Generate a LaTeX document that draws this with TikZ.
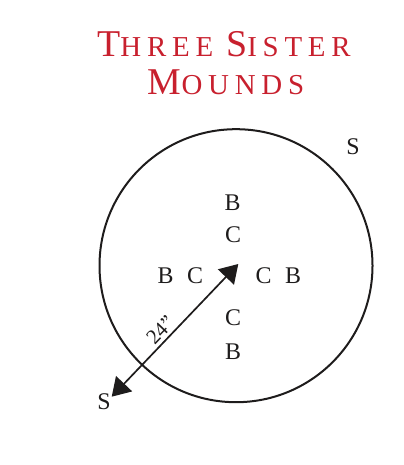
\documentclass[tikz,border=0pt]{standalone}
\usepackage{fontspec}
\setmainfont{Liberation Serif}
\newfontfamily\titlefont[LetterSpace=20]{Liberation Serif}
\usetikzlibrary{arrows.meta}
\definecolor{titlered}{RGB}{200,32,46}
\definecolor{ink}{RGB}{30,28,28}
\newcommand\tcapbig[1]{{\fontsize{38}{40}\selectfont #1}}
\newcommand\tcapsmall[1]{{\fontsize{29}{32}\selectfont #1}}
\begin{document}
\begin{tikzpicture}[x=1bp,y=-1bp,
  letter/.style={font=\fontsize{24}{26}\selectfont, text=ink, inner sep=0pt},
  titleline/.style={font=\titlefont, text=titlered, inner sep=0pt, anchor=base},
  tipstyle/.style={line width=1.7bp, draw=ink,
    {Triangle[length=18bp,width=22bp]}-{Triangle[length=18bp,width=22bp]}}]
\useasboundingbox (0,0) rectangle (403,465);
% title
\node[titleline] (t1) at (224,57) {\tcapbig{T}\tcapsmall{HREE\ }\tcapbig{S}\tcapsmall{ISTER}};
\node[titleline] (t2) at (226,95) {\tcapbig{M}\tcapsmall{OUNDS}};
% mound circle
\node[circle, draw=ink, line width=2bp, minimum size=273bp, inner sep=0pt] (ring) at (236,265.7) {};
% letters
\node[letter] (bt) at (232.5,203) {B};
\node[letter] (ct) at (233,234.5) {C};
\node[letter] (bl) at (165.5,276) {B};
\node[letter] (cl) at (195,276) {C};
\node[letter] (cr) at (263.5,276) {C};
\node[letter] (br) at (293,276) {B};
\node[letter] (cb) at (233,318) {C};
\node[letter] (bb) at (233,352) {B};
\node[letter] (s1) at (353,147) {S};
\node[letter] (s2) at (104,402) {S};
% arrow
\coordinate (lo) at (111.7,396.7);
\coordinate (hi) at (238.3,264);
\draw[tipstyle] (lo) -- node[pos=0.445, sloped, above, inner sep=3bp, font=\fontsize{21}{23}\selectfont, text=ink] (lab) {24”} (hi);
\end{tikzpicture}
\end{document}
